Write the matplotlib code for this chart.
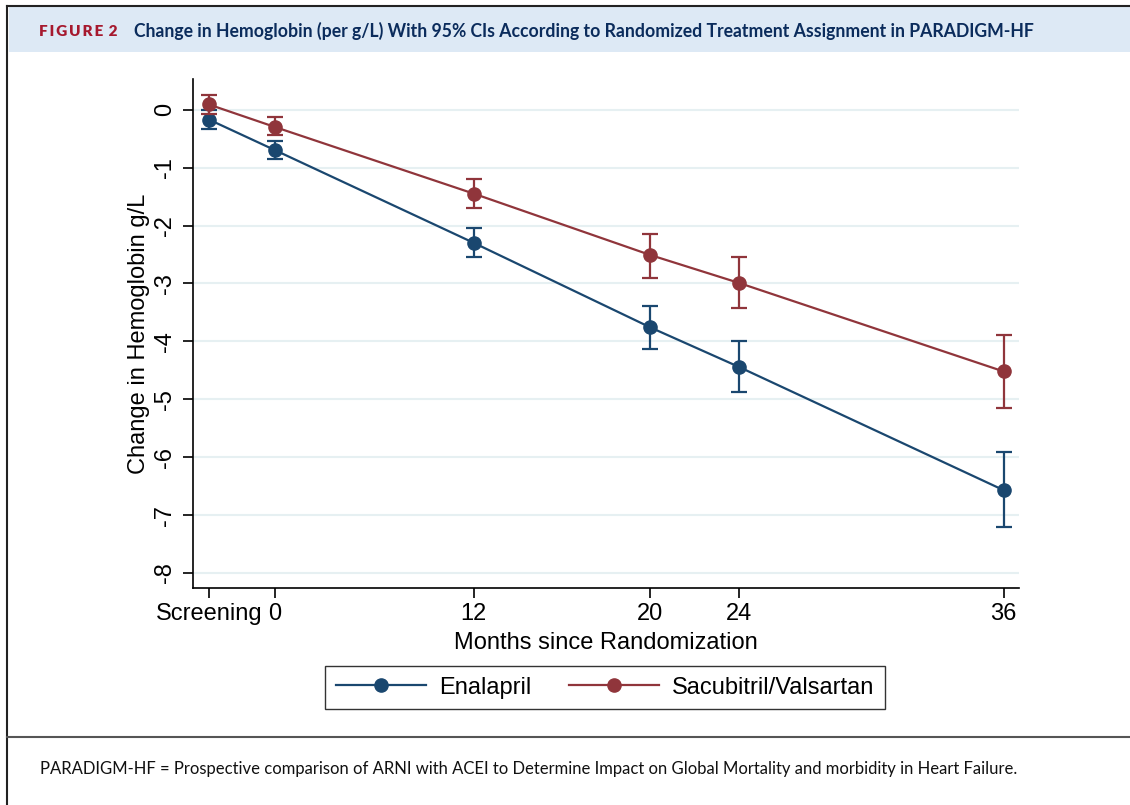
import numpy as np
import matplotlib.pyplot as plt
from matplotlib.lines import Line2D
from matplotlib.patches import Rectangle

# visit positions (screening sits just before randomization)
months = [0, 3, 12, 20, 24, 36]
month_labels = ['Screening', '0', '12', '20', '24', '36']
yticks = [0, -1, -2, -3, -4, -5, -6, -7, -8]

# change in hemoglobin and 95% CI
enal = [-0.17, -0.70, -2.30, -3.76, -4.44, -6.57]
enal_lo = [-0.34, -0.86, -2.55, -4.13, -4.87, -7.21]
enal_hi = [0.00, -0.54, -2.05, -3.39, -4.00, -5.92]

sacval = [0.09, -0.30, -1.45, -2.51, -2.99, -4.52]
sacval_lo = [-0.08, -0.44, -1.70, -2.90, -3.43, -5.16]
sacval_hi = [0.26, -0.12, -1.20, -2.15, -2.55, -3.89]

blue = '#1a476f'
red = '#90353b'

plt.rcParams['font.family'] = ['Liberation Sans', 'DejaVu Sans']

fig = plt.figure(figsize=(11.3, 8.05), dpi=100)

# frame, header band, separator
fig.add_artist(Rectangle((9 / 1130, 1 - 52 / 805), 1, 45 / 805, transform=fig.transFigure,
                         facecolor='#dde9f5', edgecolor='none'))
fig.add_artist(Line2D([7 / 1130, 1], [1 - 6 / 805, 1 - 6 / 805], transform=fig.transFigure,
                      color='#222222', lw=1.5))
fig.add_artist(Line2D([7 / 1130, 7 / 1130], [0, 1 - 6 / 805], transform=fig.transFigure,
                      color='#222222', lw=1.5))
fig.add_artist(Line2D([7 / 1130, 1], [1 - 737 / 805, 1 - 737 / 805], transform=fig.transFigure,
                      color='#555555', lw=1.5))

fig.text(39 / 1130, 1 - 31 / 805, 'F\u2009I\u2009G\u2009U\u2009R\u2009E\u2009 2', color='#a6192e',
         fontsize=11, fontweight='heavy', family=['Lato', 'DejaVu Sans'], va='center')
fig.text(134 / 1130, 1 - 31 / 805,
         'Change in Hemoglobin (per g/L) With 95% CIs According to Randomized Treatment Assignment in PARADIGM-HF',
         color='#0b2c5c', fontsize=12.7, fontweight='bold', family=['Lato', 'DejaVu Sans'], va='center')
fig.text(40 / 1130, 1 - 769 / 805,
         'PARADIGM-HF = Prospective comparison of ARNI with ACEI to Determine Impact on Global Mortality and morbidity in Heart Failure.',
         color='#111111', fontsize=12, family=['Lato', 'DejaVu Sans'], va='center')

ax = fig.add_axes([193 / 1130, 1 - 588 / 805, (1019 - 193) / 1130, (588 - 79) / 805])

ax.errorbar(months, enal, yerr=[np.array(enal) - np.array(enal_lo), np.array(enal_hi) - np.array(enal)],
            color=blue, marker='o', markersize=9.5, lw=1.6, elinewidth=1.6, capsize=6, capthick=1.6, zorder=3)
ax.errorbar(months, sacval, yerr=[np.array(sacval) - np.array(sacval_lo), np.array(sacval_hi) - np.array(sacval)],
            color=red, marker='o', markersize=9.5, lw=1.6, elinewidth=1.6, capsize=6, capthick=1.6, zorder=4)

ax.set_xlim(-0.72, 36.7)
ax.set_ylim(-8.26, 0.53)
ax.set_xticks(months)
ax.set_xticklabels(month_labels)
ax.set_yticks(yticks)
ax.set_yticklabels([str(t) for t in yticks], rotation=90, va='center')
ax.tick_params(axis='both', labelsize=17, length=7, width=1.2, color='black')
ax.tick_params(axis='y', pad=5)
ax.tick_params(axis='x', pad=4)

ax.grid(axis='y', color='#e6f0f2', lw=1.5)
ax.set_axisbelow(True)
for s in ['top', 'right']:
    ax.spines[s].set_visible(False)
ax.spines['left'].set_linewidth(1.2)
ax.spines['bottom'].set_linewidth(1.2)

ax.set_ylabel('Change in Hemoglobin g/L', fontsize=17, labelpad=3)
ax.set_xlabel('Months since Randomization', fontsize=17, labelpad=5)

handles = [Line2D([], [], color=blue, marker='o', markersize=9.5, lw=1.6),
           Line2D([], [], color=red, marker='o', markersize=9.5, lw=1.6)]
leg = fig.legend(handles, ['Enalapril', 'Sacubitril/Valsartan'], loc='center',
                 bbox_to_anchor=(605 / 1130, 1 - 687.5 / 805), ncol=2, fontsize=17,
                 frameon=True, fancybox=False, edgecolor='black', borderpad=0.45,
                 handlelength=3.8, handletextpad=0.55, columnspacing=1.6)
leg.get_frame().set_linewidth(1.0)

fig.savefig('out.png', dpi=100)
